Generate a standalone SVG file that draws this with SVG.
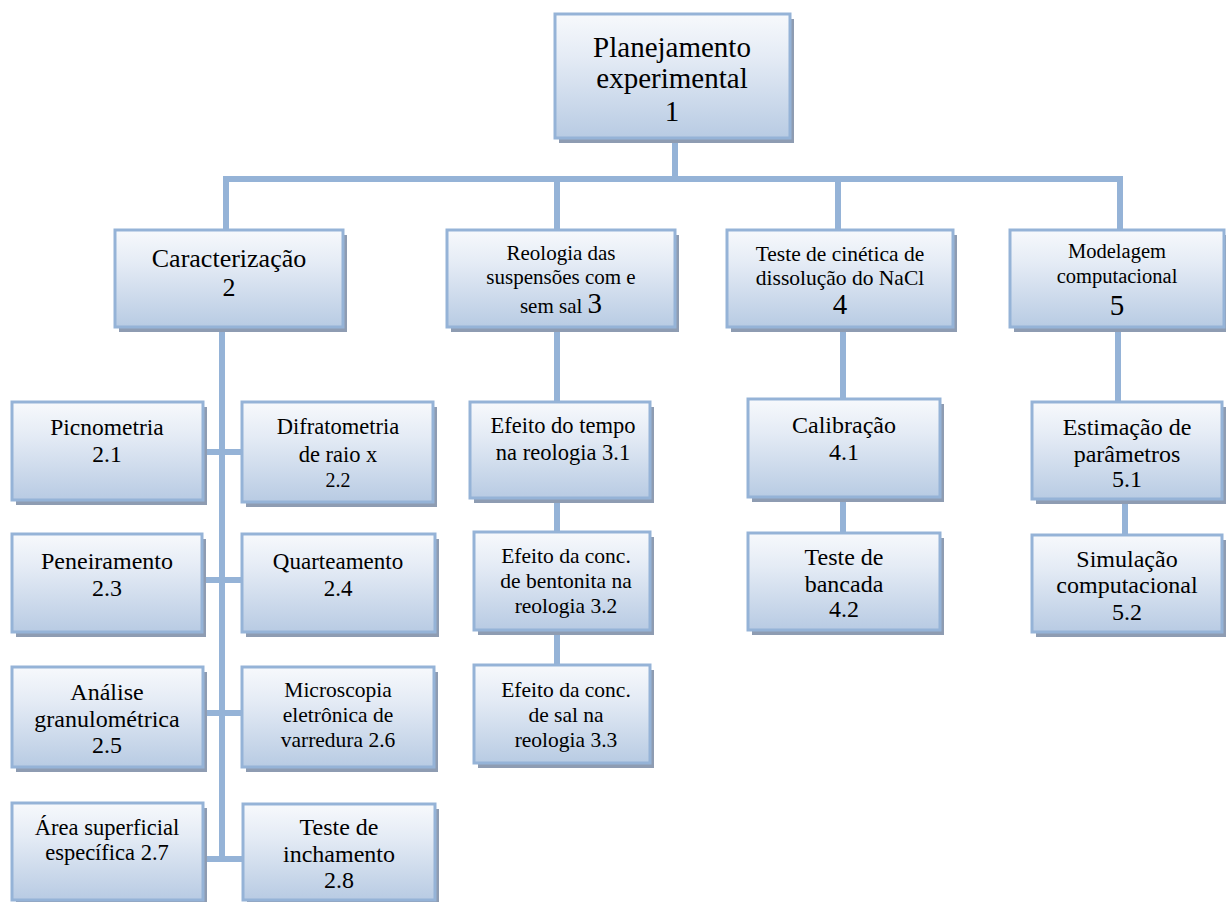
<svg xmlns="http://www.w3.org/2000/svg" width="1226" height="902" viewBox="0 0 1226 902">
<defs>
<linearGradient id="g" x1="0" y1="0" x2="0" y2="1">
<stop offset="0" stop-color="#f7f9fc"/>
<stop offset="0.35" stop-color="#e4ebf5"/>
<stop offset="1" stop-color="#b8cbe3"/>
</linearGradient>
<style>
.box{fill:url(#g);stroke:#95b3d7;stroke-width:3}
.sh{fill:#8e9cb2}
.t{text-anchor:middle;fill:#000}
.c{stroke:#95b3d7;stroke-width:6;fill:none}
</style>
</defs>
<rect width="1226" height="902" fill="#fff"/>
<g id="connectors">
<path class="c" d="M675,138V179M223,179H1123M226,179V230M557,179V230M838,179V230M1120,179V230"/>
<path class="c" d="M222,327V859M203,452H242M203,580H242M203,713H242M203,859H243"/>
<path class="c" d="M557,327V402M557,498V532M557,630V665"/>
<path class="c" d="M843,327V399M843,497V533"/>
<path class="c" d="M1118,327V402M1125,499V535"/>
</g>
<g font-family="Liberation Serif, Times New Roman, DejaVu Serif, serif">
<g id="n1"><rect class="sh" x="559" y="19" width="235" height="124"/><rect class="box" x="555" y="14" width="235" height="124"/>
<text class="t" font-size="29"><tspan x="672" y="57">Planejamento</tspan><tspan x="672" y="88">experimental</tspan><tspan x="672" y="121">1</tspan></text></g>
<g id="n2"><rect class="sh" x="119" y="235" width="228" height="97"/><rect class="box" x="115" y="230" width="228" height="97"/>
<text class="t" font-size="26"><tspan x="229" y="267">Caracterização</tspan><tspan x="229" y="296">2</tspan></text></g>
<g id="n3"><rect class="sh" x="451" y="235" width="228" height="97"/><rect class="box" x="447" y="230" width="228" height="97"/>
<text class="t" font-size="21"><tspan x="561" y="260">Reologia das</tspan><tspan x="561" y="284">suspensões com e</tspan><tspan x="561" y="313">sem sal <tspan font-size="29">3</tspan></tspan></text></g>
<g id="n4"><rect class="sh" x="731" y="235" width="226" height="97"/><rect class="box" x="727" y="230" width="226" height="97"/>
<text class="t" font-size="21.5"><tspan x="840" y="261">Teste de cinética de</tspan><tspan x="840" y="285">dissolução do NaCl</tspan><tspan x="840" y="314" font-size="29">4</tspan></text></g>
<g id="n5"><rect class="sh" x="1014" y="235" width="215" height="97"/><rect class="box" x="1010" y="230" width="214" height="97"/>
<text class="t" font-size="20.5"><tspan x="1117" y="258">Modelagem</tspan><tspan x="1117" y="283">computacional</tspan><tspan x="1117" y="315" font-size="29">5</tspan></text></g>
<g id="n21"><rect class="sh" x="16" y="407" width="191" height="98"/><rect class="box" x="12" y="402" width="191" height="98"/>
<text class="t" font-size="23.5"><tspan x="107" y="435">Picnometria</tspan><tspan x="107" y="462">2.1</tspan></text></g>
<g id="n22"><rect class="sh" x="246" y="407" width="191" height="100"/><rect class="box" x="242" y="402" width="191" height="100"/>
<text class="t" font-size="22.5"><tspan x="338" y="434">Difratometria</tspan><tspan x="338" y="462">de raio x</tspan><tspan x="338" y="487" font-size="20">2.2</tspan></text></g>
<g id="n23"><rect class="sh" x="16" y="539" width="190" height="98"/><rect class="box" x="12" y="534" width="190" height="98"/>
<text class="t" font-size="24"><tspan x="107" y="569">Peneiramento</tspan><tspan x="107" y="596">2.3</tspan></text></g>
<g id="n24"><rect class="sh" x="246" y="539" width="193" height="98"/><rect class="box" x="242" y="534" width="193" height="98"/>
<text class="t" font-size="23"><tspan x="338" y="569">Quarteamento</tspan><tspan x="338" y="596">2.4</tspan></text></g>
<g id="n25"><rect class="sh" x="16" y="672" width="191" height="100"/><rect class="box" x="12" y="667" width="191" height="100"/>
<text class="t" font-size="24"><tspan x="107" y="700">Análise</tspan><tspan x="107" y="727">granulométrica</tspan><tspan x="107" y="753">2.5</tspan></text></g>
<g id="n26"><rect class="sh" x="246" y="672" width="192" height="100"/><rect class="box" x="242" y="667" width="192" height="100"/>
<text class="t" font-size="21.5"><tspan x="338" y="697">Microscopia</tspan><tspan x="338" y="722">eletrônica de</tspan><tspan x="338" y="747">varredura 2.6</tspan></text></g>
<g id="n27"><rect class="sh" x="16" y="808" width="191" height="97"/><rect class="box" x="12" y="803" width="191" height="97"/>
<text class="t" font-size="22.5"><tspan x="107" y="835">Área superficial</tspan><tspan x="107" y="860">específica 2.7</tspan></text></g>
<g id="n28"><rect class="sh" x="247" y="809" width="192" height="96"/><rect class="box" x="243" y="804" width="192" height="96"/>
<text class="t" font-size="24"><tspan x="339" y="835">Teste de</tspan><tspan x="339" y="862">inchamento</tspan><tspan x="339" y="888">2.8</tspan></text></g>
<g id="n31"><rect class="sh" x="474" y="407" width="180" height="96"/><rect class="box" x="470" y="402" width="180" height="96"/>
<text class="t" font-size="22.5"><tspan x="563" y="433">Efeito do tempo</tspan><tspan x="563" y="460">na reologia 3.1</tspan></text></g>
<g id="n32"><rect class="sh" x="478" y="537" width="176" height="98"/><rect class="box" x="474" y="532" width="176" height="98"/>
<text class="t" font-size="21.5"><tspan x="566" y="563">Efeito da conc.</tspan><tspan x="566" y="588">de bentonita na</tspan><tspan x="566" y="613">reologia 3.2</tspan></text></g>
<g id="n33"><rect class="sh" x="478" y="670" width="176" height="98"/><rect class="box" x="474" y="665" width="176" height="98"/>
<text class="t" font-size="21.5"><tspan x="566" y="697">Efeito da conc.</tspan><tspan x="566" y="722">de sal na</tspan><tspan x="566" y="747">reologia 3.3</tspan></text></g>
<g id="n41"><rect class="sh" x="752" y="404" width="192" height="98"/><rect class="box" x="748" y="399" width="192" height="98"/>
<text class="t" font-size="24"><tspan x="844" y="433">Calibração</tspan><tspan x="844" y="460">4.1</tspan></text></g>
<g id="n42"><rect class="sh" x="752" y="538" width="192" height="97"/><rect class="box" x="748" y="533" width="192" height="97"/>
<text class="t" font-size="24"><tspan x="844" y="565">Teste de</tspan><tspan x="844" y="592">bancada</tspan><tspan x="844" y="617">4.2</tspan></text></g>
<g id="n51"><rect class="sh" x="1036" y="407" width="190" height="97"/><rect class="box" x="1032" y="402" width="190" height="97"/>
<text class="t" font-size="24"><tspan x="1127" y="435">Estimação de</tspan><tspan x="1127" y="462">parâmetros</tspan><tspan x="1127" y="487">5.1</tspan></text></g>
<g id="n52"><rect class="sh" x="1036" y="540" width="190" height="97"/><rect class="box" x="1032" y="535" width="190" height="97"/>
<text class="t" font-size="24"><tspan x="1127" y="567">Simulação</tspan><tspan x="1127" y="593">computacional</tspan><tspan x="1127" y="620">5.2</tspan></text></g>
</g>
</svg>
